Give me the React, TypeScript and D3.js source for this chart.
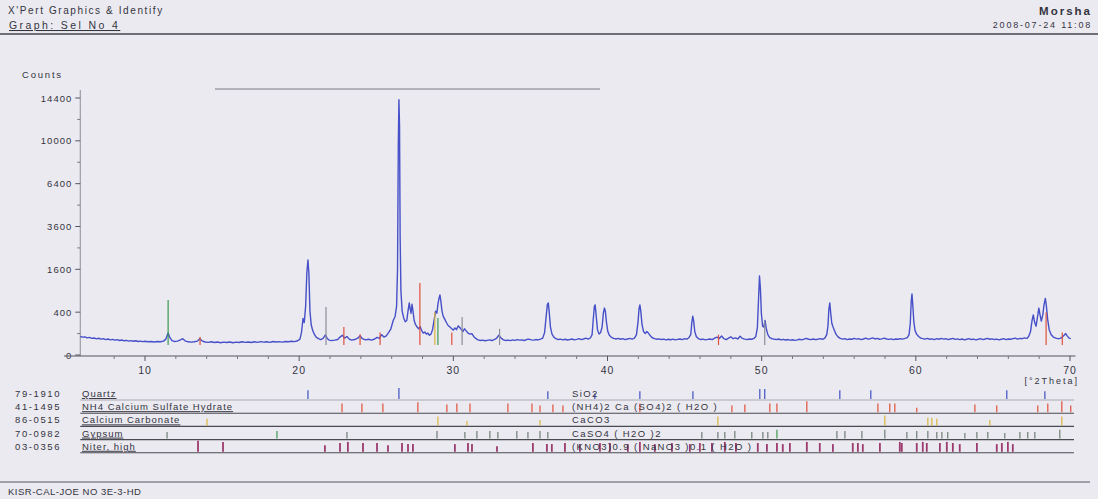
import React from "react";
import * as d3 from "d3";

// ---- data ----
const xTicks = [10, 20, 30, 40, 50, 60, 70];
const yTicks = [0, 400, 1600, 3600, 6400, 10000, 14400];
const yMinor = [100, 2500, 4900, 8100, 12100];

// measured pattern [°2Theta, counts]
const scan: [number, number][] = [
  [5.8, 75], [5.95, 70], [6.1, 72], [6.25, 64], [6.4, 68], [6.55, 60], [6.7, 63], [6.85, 57], [7.0, 61], [7.15, 55],
  [7.3, 58], [7.45, 52], [7.6, 56], [7.75, 50], [7.9, 53], [8.05, 48], [8.2, 51], [8.35, 46], [8.5, 49], [8.65, 44],
  [8.8, 47], [8.95, 42], [9.1, 45], [9.25, 41], [9.4, 44], [9.55, 40], [9.7, 42], [9.85, 39], [10.0, 41], [10.2, 38],
  [10.4, 40], [10.6, 37], [10.8, 40], [11.0, 38], [11.2, 42], [11.35, 55], [11.5, 105], [11.6, 70], [11.75, 45], [11.9, 40],
  [12.1, 42], [12.3, 50], [12.45, 58], [12.6, 44], [12.8, 38], [13.0, 36], [13.2, 38], [13.4, 42], [13.55, 58], [13.7, 44],
  [13.9, 37], [14.1, 35], [14.3, 38], [14.5, 34], [14.7, 37], [14.9, 33], [15.1, 36], [15.3, 34], [15.5, 37], [15.7, 33],
  [15.9, 36], [16.1, 34], [16.3, 38], [16.5, 35], [16.7, 37], [16.9, 34], [17.1, 38], [17.3, 35], [17.5, 39], [17.7, 36],
  [17.9, 38], [18.1, 35], [18.3, 40], [18.5, 37], [18.7, 39], [18.9, 36], [19.1, 40], [19.3, 38], [19.5, 41], [19.7, 39],
  [19.9, 44], [20.05, 55], [20.15, 110], [20.25, 290], [20.33, 230], [20.42, 520], [20.5, 1500], [20.57, 1970], [20.63, 1450], [20.7, 420],
  [20.78, 200], [20.88, 130], [20.98, 95], [21.1, 70], [21.25, 58], [21.4, 52], [21.55, 60], [21.7, 88], [21.82, 60], [21.95, 48],
  [22.1, 45], [22.3, 48], [22.5, 52], [22.65, 70], [22.8, 85], [22.95, 62], [23.1, 75], [23.25, 55], [23.4, 48], [23.6, 52],
  [23.8, 62], [23.95, 80], [24.1, 58], [24.3, 50], [24.5, 54], [24.7, 48], [24.9, 56], [25.05, 68], [25.2, 60], [25.35, 90],
  [25.5, 70], [25.65, 80], [25.8, 110], [25.95, 150], [26.1, 260], [26.22, 320], [26.32, 520], [26.38, 1600], [26.43, 9500], [26.47, 14200],
  [26.51, 11500], [26.55, 3000], [26.6, 900], [26.68, 420], [26.78, 300], [26.88, 240], [26.98, 260], [27.06, 420], [27.14, 590], [27.2, 470],
  [27.26, 380], [27.32, 560], [27.38, 430], [27.46, 260], [27.55, 200], [27.65, 170], [27.75, 150], [27.85, 175], [27.95, 130], [28.05, 105],
  [28.15, 115], [28.25, 95], [28.35, 105], [28.45, 85], [28.55, 95], [28.65, 140], [28.75, 260], [28.85, 420], [28.93, 380], [29.0, 560],
  [29.07, 700], [29.13, 786], [29.19, 640], [29.26, 430], [29.34, 330], [29.44, 280], [29.55, 230], [29.66, 190], [29.78, 170], [29.9, 150],
  [30.0, 135], [30.1, 160], [30.2, 140], [30.32, 185], [30.42, 165], [30.52, 140], [30.62, 120], [30.72, 150], [30.82, 130], [30.95, 105],
  [31.08, 95], [31.2, 100], [31.32, 75], [31.45, 60], [31.6, 50], [31.75, 46], [31.9, 48], [32.05, 44], [32.2, 47], [32.35, 50],
  [32.5, 46], [32.65, 52], [32.8, 60], [32.95, 85], [33.1, 62], [33.25, 50], [33.4, 46], [33.55, 48], [33.7, 45], [33.85, 50],
  [34.0, 47], [34.15, 52], [34.3, 48], [34.45, 50], [34.6, 46], [34.75, 52], [34.9, 55], [35.05, 50], [35.2, 48], [35.35, 52],
  [35.5, 50], [35.65, 55], [35.8, 62], [35.92, 110], [36.02, 320], [36.1, 560], [36.16, 590], [36.22, 400], [36.3, 170], [36.4, 95],
  [36.52, 70], [36.65, 58], [36.8, 52], [36.95, 55], [37.1, 50], [37.25, 54], [37.4, 49], [37.55, 52], [37.7, 56], [37.85, 50],
  [38.0, 53], [38.15, 58], [38.3, 52], [38.45, 56], [38.6, 62], [38.75, 55], [38.9, 65], [39.0, 90], [39.08, 290], [39.15, 520],
  [39.2, 546], [39.27, 320], [39.35, 140], [39.45, 95], [39.55, 110], [39.65, 170], [39.73, 380], [39.8, 480], [39.86, 420], [39.93, 240],
  [40.02, 120], [40.12, 85], [40.25, 68], [40.4, 60], [40.55, 56], [40.7, 60], [40.85, 54], [41.0, 58], [41.15, 52], [41.3, 56],
  [41.45, 60], [41.6, 55], [41.75, 62], [41.88, 90], [41.98, 240], [42.05, 480], [42.1, 546], [42.16, 420], [42.24, 200], [42.34, 120],
  [42.45, 100], [42.55, 120], [42.65, 105], [42.78, 80], [42.9, 65], [43.05, 58], [43.2, 54], [43.35, 57], [43.5, 52], [43.65, 55],
  [43.8, 50], [43.95, 54], [44.1, 51], [44.25, 55], [44.4, 50], [44.55, 53], [44.7, 56], [44.85, 52], [45.0, 58], [45.15, 55],
  [45.28, 65], [45.4, 90], [45.47, 230], [45.53, 330], [45.59, 250], [45.66, 120], [45.76, 75], [45.9, 58], [46.05, 52], [46.2, 55],
  [46.35, 50], [46.5, 53], [46.65, 56], [46.8, 52], [46.95, 62], [47.1, 70], [47.25, 60], [47.4, 78], [47.55, 58], [47.7, 52],
  [47.85, 62], [48.0, 72], [48.15, 58], [48.3, 64], [48.45, 56], [48.6, 76], [48.75, 60], [48.9, 55], [49.05, 52], [49.2, 56],
  [49.35, 54], [49.5, 60], [49.62, 75], [49.72, 160], [49.8, 700], [49.86, 1363], [49.92, 950], [49.98, 380], [50.06, 180], [50.14, 170],
  [50.22, 260], [50.3, 150], [50.4, 90], [50.52, 66], [50.66, 58], [50.8, 55], [50.95, 52], [51.1, 56], [51.25, 50], [51.4, 53],
  [51.55, 49], [51.7, 52], [51.85, 48], [52.0, 51], [52.15, 47], [52.3, 50], [52.45, 54], [52.6, 50], [52.75, 55], [52.9, 60],
  [53.05, 54], [53.2, 52], [53.35, 56], [53.5, 51], [53.65, 55], [53.8, 58], [53.95, 54], [54.1, 62], [54.22, 90], [54.3, 180],
  [54.36, 460], [54.42, 590], [54.48, 380], [54.55, 220], [54.63, 170], [54.72, 130], [54.82, 95], [54.95, 72], [55.1, 60], [55.25, 55],
  [55.4, 58], [55.55, 52], [55.7, 56], [55.85, 54], [56.0, 60], [56.15, 55], [56.3, 58], [56.45, 52], [56.6, 56], [56.75, 62],
  [56.9, 55], [57.05, 58], [57.2, 64], [57.35, 56], [57.5, 60], [57.65, 54], [57.8, 57], [57.95, 62], [58.1, 56], [58.25, 53],
  [58.4, 57], [58.55, 52], [58.7, 56], [58.85, 54], [59.0, 58], [59.15, 55], [59.3, 60], [59.45, 66], [59.56, 90], [59.64, 220],
  [59.7, 620], [59.75, 812], [59.8, 560], [59.87, 240], [59.95, 130], [60.05, 95], [60.18, 75], [60.32, 62], [60.46, 58], [60.6, 55],
  [60.75, 60], [60.9, 54], [61.05, 57], [61.2, 52], [61.35, 58], [61.5, 54], [61.65, 60], [61.8, 55], [61.95, 58], [62.1, 52],
  [62.25, 56], [62.4, 60], [62.55, 53], [62.7, 57], [62.85, 52], [63.0, 56], [63.15, 50], [63.3, 54], [63.45, 58], [63.6, 52],
  [63.75, 55], [63.9, 50], [64.05, 54], [64.2, 58], [64.35, 52], [64.5, 56], [64.65, 60], [64.8, 54], [64.95, 57], [65.1, 52],
  [65.25, 55], [65.4, 50], [65.55, 54], [65.7, 58], [65.85, 52], [66.0, 56], [66.15, 54], [66.3, 58], [66.45, 62], [66.6, 55],
  [66.75, 60], [66.9, 58], [67.05, 64], [67.2, 60], [67.32, 75], [67.44, 120], [67.54, 260], [67.62, 350], [67.7, 240], [67.8, 180],
  [67.9, 330], [67.98, 480], [68.05, 360], [68.14, 250], [68.24, 360], [68.32, 560], [68.4, 700], [68.47, 520], [68.55, 280], [68.65, 140],
  [68.78, 90], [68.92, 70], [69.08, 62], [69.22, 58], [69.36, 60], [69.5, 70], [69.62, 85], [69.72, 100], [69.82, 80], [69.94, 62],
  [70.05, 58],
];

// reference sticks drawn over the pattern [°2Theta, counts, phase]
const overlaySticks: [number, number, number][] = [
  [11.5, 660, 3], [13.57, 70, 1], [21.74, 500, 5], [22.9, 170, 1], [23.95, 95, 1], [25.25, 110, 1],
  [27.83, 1130, 1], [28.8, 400, 2], [29.0, 300, 3], [29.9, 110, 1], [30.57, 315, 5], [33.0, 150, 5],
  [47.2, 90, 1], [50.2, 250, 5], [68.45, 400, 1], [69.5, 110, 1],
];

const refCodes = ["79-1910", "41-1495", "86-0515", "70-0982", "03-0356"];
const refNames = ["Quartz", "NH4 Calcium Sulfate Hydrate", "Calcium Carbonate", "Gypsum", "Niter, high"];
const refFormulas = ["SiO2", "(NH4)2 Ca (SO4)2 ( H2O )", "CaCO3", "CaSO4 ( H2O )2", "(KNO3)0.9 ( NaNO3 )0.1 ( H2O )"];
const refColors = ["#3d4fc4", "#e0503c", "#d9b43a", "#6f7c74", "#9b3a6c"];

// stick positions per reference pattern [°2Theta, relative intensity]
const refSticks: [number, number][][] = [
  [[20.57, 80], [26.47, 100], [36.13, 70], [39.18, 50], [42.1, 70], [45.54, 70], [49.88, 90], [50.2, 90],
   [55.07, 80], [57.08, 80], [65.9, 80], [68.37, 70]],
  [[22.78, 80], [24.07, 80], [25.43, 80], [27.7, 90], [29.58, 70], [30.23, 80], [31.08, 80], [33.54, 80],
   [35.1, 80], [35.62, 60], [36.46, 70], [37.11, 60], [42.1, 80], [48.07, 60], [48.91, 70], [50.53, 80],
   [50.99, 80], [52.93, 100], [57.54, 80], [58.31, 80], [58.64, 80], [60.06, 40], [63.83, 70], [65.25, 60],
   [67.91, 60], [68.56, 80], [69.47, 100], [70.05, 60]],
  [[14.02, 60], [29.0, 80], [30.88, 40], [35.62, 50], [47.16, 80], [57.99, 90], [60.78, 70], [61.04, 70],
   [61.36, 60], [64.8, 50], [69.47, 80]],
  [[11.43, 60], [18.56, 70], [23.1, 60], [28.94, 70], [30.75, 60], [31.53, 70], [32.37, 70], [32.89, 60],
   [34.12, 70], [34.84, 60], [35.62, 70], [36.13, 60], [46.12, 60], [47.16, 60], [47.61, 60], [48.26, 70],
   [49.36, 60], [50.08, 60], [50.4, 60], [50.99, 80], [54.88, 70], [55.4, 70], [56.5, 70], [57.99, 80],
   [59.42, 60], [60.06, 70], [60.78, 70], [61.36, 60], [61.69, 60], [62.07, 60], [63.18, 50], [63.96, 60],
   [64.67, 60], [65.77, 50], [66.75, 60], [67.26, 60], [67.72, 60], [69.34, 80]],
  [[13.44, 100], [15.06, 90], [21.67, 60], [22.65, 80], [23.16, 90], [24.14, 80], [25.05, 80], [25.76, 60],
   [26.67, 80], [27.06, 70], [27.38, 70], [30.1, 70], [30.95, 80], [31.21, 70], [32.83, 50], [35.16, 80],
   [36.07, 70], [36.39, 70], [37.24, 80], [38.21, 70], [39.51, 80], [40.16, 80], [41.32, 70], [42.1, 90],
   [43.07, 70], [44.18, 80], [45.34, 70], [45.99, 80], [46.77, 80], [47.61, 90], [48.33, 80], [49.75, 80],
   [50.34, 70], [50.99, 80], [51.37, 70], [51.83, 80], [52.93, 90], [53.77, 80], [54.62, 70], [55.91, 80],
   [56.24, 80], [56.56, 70], [57.67, 80], [58.96, 90], [59.09, 80], [60.06, 80], [60.45, 90], [60.71, 80],
   [61.56, 80], [62.01, 90], [62.4, 80], [62.85, 70], [63.96, 80], [65.25, 70], [65.58, 80], [65.97, 90],
   [66.29, 70]],
];

const W = 1098;
const H = 499;
const font = "'Liberation Sans', Arial, sans-serif";
const ink = "#34343e";

export default function App() {
  const x = d3.scaleLinear().domain([10, 70]).range([145, 1070]);
  const xMin = 5.8;
  const xMax = 70.1;
  const y = d3.scaleSqrt().domain([0, 14400]).range([355, 98]);
  const plotLeft = x(xMin);

  const line = d3
    .line<[number, number]>()
    .x((d) => x(d[0]))
    .y((d) => y(d[1]));

  const rowY = (i: number) => 400 + 13.2 * i;
  const stickH = d3.scaleLinear().domain([0, 100]).range([0, 11]);
  const minorX = d3.range(8, 70, 2).filter((v) => v % 10 !== 0);

  return (
    <svg
      width={W}
      height={H}
      style={{ position: "absolute", left: 0, top: 0, fontFamily: font }}
    >
      <rect width={W} height={H} fill="#ebeaf1" />

      {/* header */}
      <text x={8} y={14} fontSize={10} fill={ink} letterSpacing={1.6}>X'Pert Graphics &amp; Identify</text>
      <text x={9} y={29} fontSize={10.5} fill={ink} letterSpacing={2.4} textDecoration="underline">Graph: Sel No 4</text>
      <text x={1092} y={15} fontSize={11.5} fill={ink} textAnchor="end" fontWeight="bold" letterSpacing={2}>Morsha</text>
      <text x={1092} y={28} fontSize={9} fill={ink} textAnchor="end" letterSpacing={1.8}>2008-07-24 11:08</text>
      <line x1={0} x2={W} y1={34} y2={34} stroke="#44444c" strokeWidth={1.4} />

      {/* faint line at plot top */}
      <line x1={215} x2={600} y1={89} y2={89} stroke="#6e6e78" strokeWidth={0.9} />

      {/* y axis */}
      <text x={22} y={78} fontSize={9.5} fill={ink} letterSpacing={1.8}>Counts</text>
      <line x1={plotLeft} x2={plotLeft} y1={90} y2={356} stroke="#8c8c96" strokeWidth={1} />
      {yTicks.map((t) => (
        <g key={t}>
          <line x1={plotLeft - 5} x2={plotLeft} y1={y(t)} y2={y(t)} stroke="#55555e" />
          <text x={plotLeft - 8} y={y(t) + 3.5} fontSize={9.5} fill={ink} textAnchor="end" letterSpacing={1}>{t}</text>
        </g>
      ))}
      {yMinor.map((t) => (
        <line key={t} x1={plotLeft - 3} x2={plotLeft} y1={y(t)} y2={y(t)} stroke="#77777f" />
      ))}

      {/* x axis */}
      <line x1={64} x2={x(xMax) + 4} y1={356} y2={356} stroke="#55555e" strokeWidth={1.2} />
      {xTicks.map((t) => (
        <g key={t}>
          <line x1={x(t)} x2={x(t)} y1={356} y2={361} stroke="#55555e" />
          <text x={x(t)} y={374} fontSize={10.5} fill={ink} textAnchor="middle" letterSpacing={1}>{t}</text>
        </g>
      ))}
      {minorX.map((t) => (
        <line key={t} x1={x(t)} x2={x(t)} y1={356} y2={359} stroke="#77777f" />
      ))}
      <text x={1079} y={384} fontSize={9} fill={ink} textAnchor="end" letterSpacing={2}>[°2Theta]</text>

      {/* pattern */}
      <path d={line(scan) ?? ""} fill="none" stroke="#4650c8" strokeWidth={1.4} strokeLinejoin="round" />
      {overlaySticks.map(([p, c, ph], i) => (
        <line
          key={i}
          x1={x(p)}
          x2={x(p)}
          y1={y(0) - 10}
          y2={y(c)}
          stroke={ph === 5 ? "#8e8e96" : ph === 3 ? "#3c9a52" : refColors[ph]}
          strokeWidth={1.2}
        />
      ))}

      {/* reference patterns */}
      {refCodes.map((code, i) => {
        const base = rowY(i);
        return (
          <g key={code}>
            <line x1={plotLeft} x2={1074} y1={base} y2={base} stroke={i === 0 ? "#9a9aa4" : "#4a4a52"} strokeWidth={i === 0 ? 0.8 : 1.1} />
            {refSticks[i].map(([p, v], j) => (
              <line
                key={j}
                x1={x(p)}
                x2={x(p)}
                y1={base - 1}
                y2={base - 1 - stickH(v)}
                stroke={i === 3 && (p === 18.56 || p === 50.99) ? "#3c9a52" : refColors[i]}
                strokeWidth={i === 4 ? 1.8 : 1.2}
              />
            ))}
            <text x={15} y={base - 3} fontSize={9.5} fill={ink} letterSpacing={1.6}>{code}</text>
            <text x={82} y={base - 3} fontSize={9.5} fill={ink} textDecoration="underline" letterSpacing={1}>
              {refNames[i]}
            </text>
            <text x={572} y={base - 3} fontSize={9.5} fill={ink} letterSpacing={1.4}>{refFormulas[i]}</text>
          </g>
        );
      })}

      {/* footer */}
      <line x1={0} x2={1090} y1={482} y2={482} stroke="#55555e" strokeWidth={1.2} />
      <text x={8} y={495} fontSize={9.5} fill={ink} letterSpacing={0.5}>KISR-CAL-JOE NO 3E-3-HD</text>
    </svg>
  );
}
